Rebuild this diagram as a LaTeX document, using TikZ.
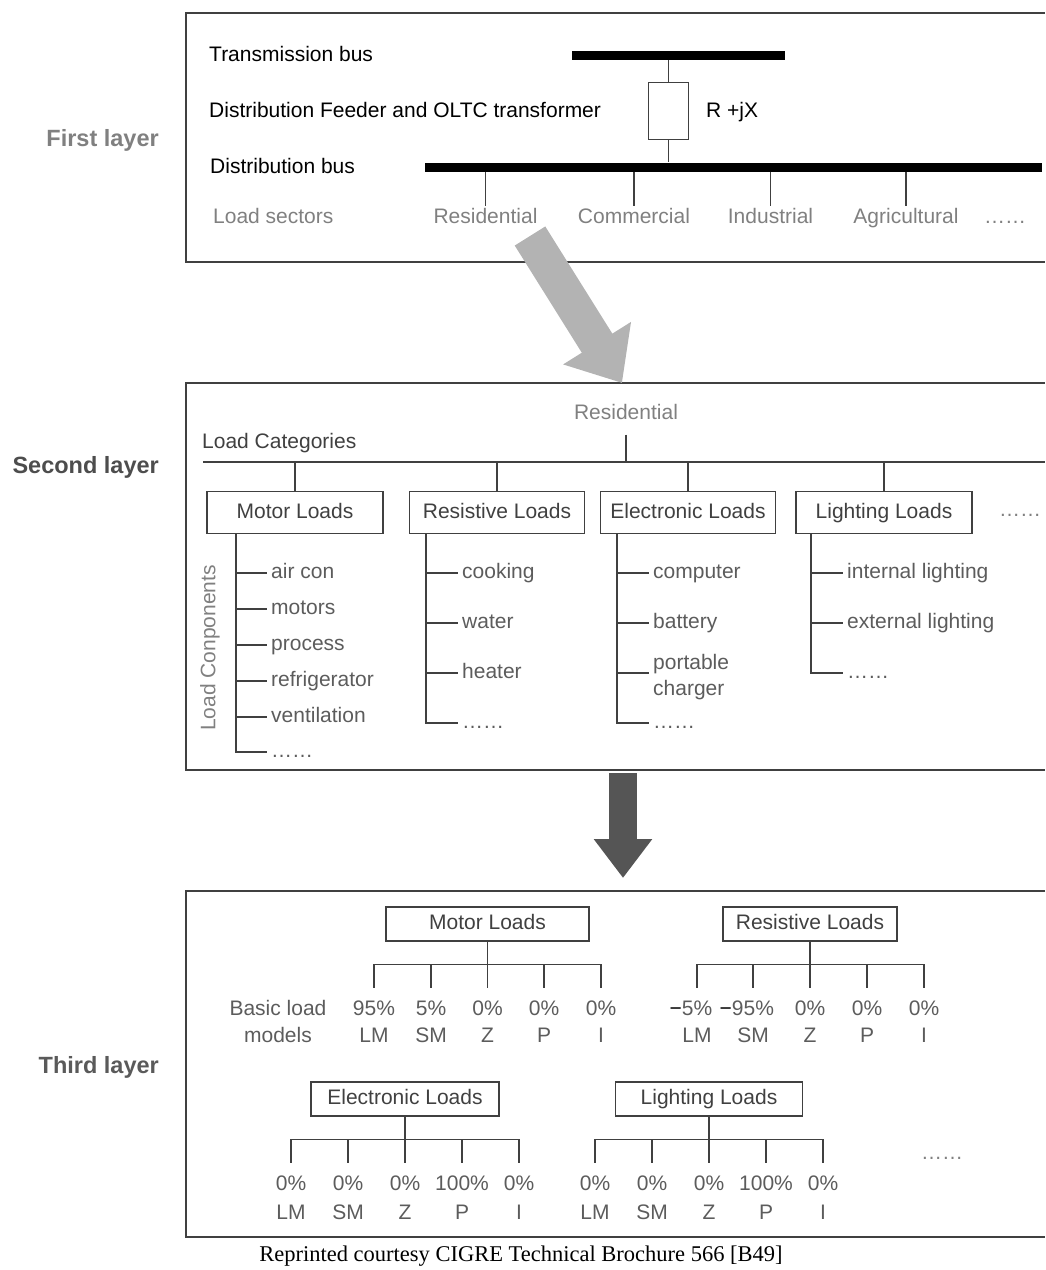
\documentclass[tikz,border=0pt]{standalone}
\usepackage{fontspec}
\setmainfont{Liberation Sans}
\newfontfamily\capfont{Liberation Serif}
\usetikzlibrary{arrows.meta,positioning}
\definecolor{ldLine}{HTML}{404040}
\definecolor{ldGray}{HTML}{808080}
\definecolor{ldDark}{HTML}{4D4D4D}
\definecolor{ldMid}{HTML}{5A5A5A}
\definecolor{ldText}{HTML}{404040}
\definecolor{ldItem}{HTML}{5C5C5C}
\definecolor{ldArrowLight}{HTML}{B3B3B3}
\definecolor{ldArrowDark}{HTML}{555555}

\begin{document}
\begin{tikzpicture}[
  x=1pt,y=-1pt,
  every node/.style={font=\fontsize{21}{25}\selectfont, inner sep=2pt},
  txt/.style={text height=15pt, text depth=4pt},
  frame/.style={draw=ldLine, line width=1.6pt},
  wire/.style={draw=ldLine, line width=1.2pt},
  bar/.style={fill=black, inner sep=0pt, minimum height=9pt},
  lbl/.style={txt, anchor=west},
  sector/.style={txt, text=ldGray},
  catbox/.style={txt, draw=ldLine, line width=1.5pt, text=ldText, minimum height=42pt,
    inner sep=0pt},
  item/.style={txt, anchor=west, text=ldItem, inner xsep=4pt},
  pct/.style={text=ldItem, inner sep=0pt, text height=15pt, text depth=0pt},
  layer/.style={font=\fontsize{23.5}{28}\selectfont\bfseries, anchor=east},
  bigarrow/.style={line width=36pt, draw=ldArrowLight,
    -{Triangle[length=47pt,width=77pt]}},
  downarrow/.style={line width=28pt, draw=ldArrowDark,
    -{Triangle[length=39pt,width=56pt]}}
]
\useasboundingbox (0,0) rectangle (1045,1270);

\node[layer, text=ldGray] (lay1) at (161,140) {First layer};
\node[layer, text=ldDark] (lay2) at (161,467) {Second layer};
\node[layer, text=ldMid] (lay3) at (161,1067) {Third layer};

\draw[frame] (1045,13) -| (186,262) -- (1045,262);
\node[lbl] (tbl) at (207,56) {Transmission bus};
\node[bar, minimum width=213pt] (tbus) at (678.5,55) {};
\node[draw=ldLine, line width=1.2pt, minimum width=40pt, minimum height=57pt,
  inner sep=0pt] (imp) at (668.5,111) {};
\node[lbl] (fdr) at (207,112) {Distribution Feeder and OLTC transformer};
\node[lbl] (rjx) at (704,112) {R +jX};
\node[lbl] (dbl) at (208,168) {Distribution bus};
\node[bar, minimum width=617pt] (dbus) at (733.5,167) {};
\node[lbl, text=ldGray] (lsec) at (211,218) {Load sectors};
\foreach \n/\x/\t in {res/485.5/Residential, com/634/Commercial,
  ind/770.5/Industrial, agr/906/Agricultural} {
  \node[sector] (\n) at (\x,218) {\t};
  \draw[wire] (\n.north |- dbus.south) -- (\n.north);
}
\node[sector] (sdots) at (1005,218) {……};
\draw[wire] (imp.north) -- (imp.north |- tbus.south);
\draw[wire] (imp.south) -- (imp.south |- dbus.north);

\draw[frame] (1045,383) -| (186,770) -- (1045,770);
\node[sector] (resi) at (626,414) {Residential};
\node[lbl, text=ldText] (lcat) at (200,443) {Load Categories};
\coordinate (catL) at (203,462);
\coordinate (catR) at (1045,462);
\draw[wire] (catL) -- (catR);
\draw[wire] ([yshift=-9pt]resi.south) -- (resi.south |- catL);
\foreach \n/\x/\w/\t in {mot/295/176/Motor Loads, rst/497/175/Resistive Loads,
  elc/688/175/Electronic Loads, lgt/884/176/Lighting Loads} {
  \node[catbox, minimum width=\w pt] (\n) at (\x,512.5) {\t};
  \draw[wire] (\n.north) -- (\n.north |- catL);
}
\node[sector] (cdots) at (1020,511) {……};
\node[text=ldGray, rotate=90] (lcomp) at (210,648) {Load Conponents};

\foreach \n/\y/\t in {1/573/air con, 2/609/motors, 3/645/process,
  4/681/refrigerator, 5/717/ventilation, 6/752/……} {
  \node[item] (mc\n) at (267,\y) {\t};
  \draw[wire] ([xshift=-59pt]mot.south) |- (mc\n.west);
}
\foreach \n/\y/\t in {1/573/cooking, 2/623/water, 3/673/heater, 4/723/……} {
  \node[item] (rc\n) at (458,\y) {\t};
  \draw[wire] ([xshift=-71pt]rst.south) |- (rc\n.west);
}
\foreach \n/\y/\t in {1/573/computer, 2/623/battery, 4/723/……} {
  \node[item] (ec\n) at (649,\y) {\t};
  \draw[wire] ([xshift=-71pt]elc.south) |- (ec\n.west);
}
\node[anchor=west, align=left, text=ldItem, inner xsep=4pt,
  font=\fontsize{21}{26}\selectfont] (ec3) at (649,677) {portable\\charger};
\draw[wire] ([xshift=-71pt]elc.south) |- ([yshift=4pt]ec3.west);
\foreach \n/\y/\t in {1/573/internal lighting, 2/623/external lighting, 3/673/……} {
  \node[item] (lc\n) at (843,\y) {\t};
  \draw[wire] ([xshift=-73pt]lgt.south) |- (lc\n.west);
}

\draw[frame] (1045,891) -| (186,1237) -- (1045,1237);
\node[align=center, text=ldItem, font=\fontsize{21}{27}\selectfont] (blm)
  at (278,1021) {Basic load\\models};

\node[catbox, minimum width=203pt, minimum height=34pt] (mtr) at (487.5,924) {Motor Loads};
\foreach \n/\x/\v/\m in {1/374/95\%/LM, 2/431/5\%/SM, 3/487.5/0\%/Z, 4/544/0\%/P,
  5/601/0\%/I} {
  \node[pct] (mp\n) at (\x,1008) {\v};
  \node[pct] (mm\n) at (\x,1035) {\m};
  \draw[wire] ([yshift=36pt]mp\n.north) -- ([yshift=12pt]mp\n.north);
}
\draw[wire] ([yshift=36pt]mp1.north) -- ([yshift=36pt]mp5.north);
\draw[wire] (mtr.south) -- ([yshift=36pt]mp3.north);

\node[catbox, minimum width=174pt, minimum height=34pt] (rsv) at (810,924) {Resistive Loads};
\foreach \n/\x/\v/\m in {1/697/{{\color{black}\llap{−}}5\%}/LM,
  2/753/{{\color{black}\llap{−}}95\%}/SM, 3/810/0\%/Z, 4/867/0\%/P, 5/924/0\%/I} {
  \node[pct] (rp\n) at (\x,1008) {\v};
  \node[pct] (rm\n) at (\x,1035) {\m};
  \draw[wire] ([yshift=36pt]rp\n.north) -- ([yshift=12pt]rp\n.north);
}
\draw[wire] ([yshift=36pt]rp1.north) -- ([yshift=36pt]rp5.north);
\draw[wire] (rsv.south) -- ([yshift=36pt]rp3.north);

\node[catbox, minimum width=188pt, minimum height=34pt] (etr) at (405,1099) {Electronic Loads};
\foreach \n/\x/\v/\m in {1/291/0\%/LM, 2/348/0\%/SM, 3/405/0\%/Z, 4/462/100\%/P,
  5/519/0\%/I} {
  \node[pct] (ep\n) at (\x,1183) {\v};
  \node[pct] (em\n) at (\x,1212) {\m};
  \draw[wire] ([yshift=36pt]ep\n.north) -- ([yshift=12pt]ep\n.north);
}
\draw[wire] ([yshift=36pt]ep1.north) -- ([yshift=36pt]ep5.north);
\draw[wire] (etr.south) -- ([yshift=36pt]ep3.north);

\node[catbox, minimum width=187pt, minimum height=34pt] (lit) at (709,1099) {Lighting Loads};
\foreach \n/\x/\v/\m in {1/595/0\%/LM, 2/652/0\%/SM, 3/709/0\%/Z, 4/766/100\%/P,
  5/823/0\%/I} {
  \node[pct] (lp\n) at (\x,1183) {\v};
  \node[pct] (lm\n) at (\x,1212) {\m};
  \draw[wire] ([yshift=36pt]lp\n.north) -- ([yshift=12pt]lp\n.north);
}
\draw[wire] ([yshift=36pt]lp1.north) -- ([yshift=36pt]lp5.north);
\draw[wire] (lit.south) -- ([yshift=36pt]lp3.north);
\node[sector] (tdots) at (942,1154) {……};

\coordinate (ga) at (530,236);
\coordinate (gb) at (622,383);
\draw[bigarrow] (ga) -- (gb);
\coordinate (da) at (623,773);
\coordinate (db) at (623,878);
\draw[downarrow] (da) -- (db);

\node[font=\capfont\fontsize{22.5}{26}\selectfont] (cap) at (521,1256)
  {Reprinted courtesy CIGRE Technical Brochure 566 [B49]};
\end{tikzpicture}
\end{document}
